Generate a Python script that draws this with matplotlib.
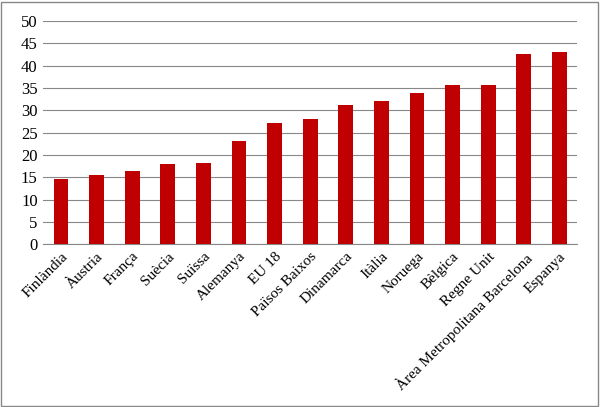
import matplotlib
matplotlib.use("Agg")
import matplotlib.pyplot as plt

categories = ["Finlàndia", "Àustria", "França", "Suècia", "Suïssa", "Alemanya", "EU 18",
              "Països Baixos", "Dinamarca", "Itàlia", "Noruega", "Bèlgica", "Regne Unit",
              "Àrea Metropolitana Barcelona", "Espanya"]
values = [14.7, 15.6, 16.5, 18.0, 18.2, 23.1, 27.1, 28.0, 31.1, 32.2, 34.0, 35.6, 35.6, 42.6, 43.0]
yticks = list(range(0, 51, 5))

plt.rcParams['font.family'] = ['Liberation Serif', 'DejaVu Serif']
fig = plt.figure(figsize=(6.0, 4.07), dpi=100)
ax = fig.add_axes([0.072, 0.40, 0.89, 0.548])
ax.bar(range(len(categories)), values, width=0.42, color="#C00000", zorder=3)
ax.set_ylim(0, 50)
ax.set_xlim(-0.5, len(categories) - 0.5)
ax.set_yticks(yticks)
ax.set_yticklabels([str(t) for t in yticks], fontsize=12)
ax.grid(axis="y", color="#888888", linewidth=0.8, zorder=0)
ax.set_xticks(range(len(categories)))
ax.set_xticklabels(categories, rotation=45, ha="right", rotation_mode="anchor", fontsize=11)
for s in ["top", "right", "left"]:
    ax.spines[s].set_visible(False)
ax.spines["bottom"].set_color("#888888")
ax.tick_params(axis="y", length=0, pad=4)
ax.tick_params(axis="x", length=0, pad=4)
fig.patches.append(matplotlib.patches.Rectangle((0.002, 0.003), 0.995, 0.993, transform=fig.transFigure,
                                                fill=False, edgecolor="#888888", linewidth=1))
fig.savefig("out.png", dpi=100)
